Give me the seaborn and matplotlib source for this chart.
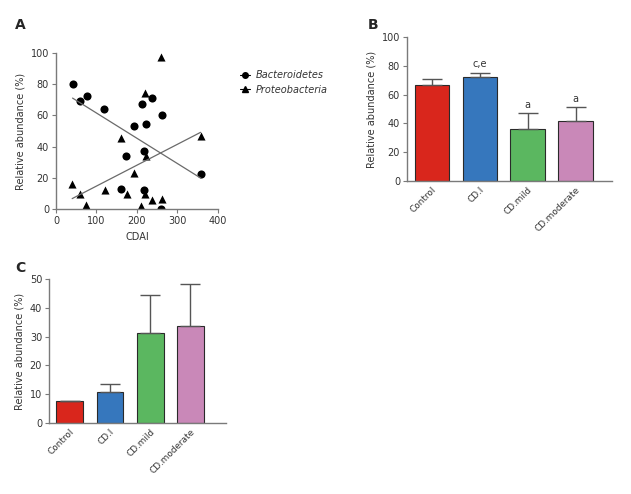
import numpy as np
import pandas as pd
import matplotlib
matplotlib.use("Agg")
import matplotlib.pyplot as plt
from matplotlib.lines import Line2D
import seaborn as sns

sns.set_style("ticks")
plt.rcParams["font.family"] = ["DejaVu Sans"]

# =========================
# DATA
# =========================
# panel A: CDAI vs relative abundance
cdai_bac = [41, 59, 76, 118, 192, 172, 160, 212, 238, 223, 262, 218, 218, 260, 358]
bacteroidetes = [80.4, 69.3, 72.7, 63.8, 53.3, 33.9, 12.8, 67.2, 71.4, 54.2, 60.3, 37.5, 11.9, 0.2, 22.4]
cdai_pro = [40, 59, 75, 120, 161, 175, 192, 219, 222, 219, 211, 237, 259, 262, 357]
proteobacteria = [16.0, 9.8, 2.8, 12.4, 45.6, 9.8, 22.8, 74.4, 34.1, 9.8, 1.7, 5.8, 97.7, 6.4, 46.7]

# panels B and C: group means with upper error
groups = ["Control", "CD.I", "CD.mild", "CD.moderate"]
colors = ["#d9261c", "#3677bd", "#5bb760", "#c988b8"]

b_mean = [66.7, 72.1, 36.2, 41.4]
b_err = [4.2, 2.7, 10.8, 9.8]
b_marks = ["", "c,e", "a", "a"]
b_mark_y = [0, 81.3, 52.7, 56.7]

c_mean = [7.6, 10.7, 31.2, 33.6]
c_err = [0.0, 2.7, 13.3, 14.5]

text_col = "#333333"
spine_col = "#7a7a7a"
lab_fs = 7
tick_fs = 7


def style_axes(ax):
    sns.despine(ax=ax)
    for s in ["left", "bottom"]:
        ax.spines[s].set_color(spine_col)
        ax.spines[s].set_linewidth(1.0)
    ax.tick_params(colors=spine_col, labelcolor=text_col, labelsize=tick_fs,
                   length=3, width=0.8, pad=2)


def bar_panel(ax, means, errs, ymax, ystep, width, xmax):
    df = pd.DataFrame({"group": groups, "value": means})
    sns.barplot(data=df, x="group", y="value", hue="group", palette=colors,
                saturation=1, width=width, edgecolor="#2a2a2a", linewidth=0.8,
                legend=False, ax=ax)
    ax.errorbar(range(len(groups)), means,
                yerr=[np.zeros(len(errs)), errs], fmt="none",
                ecolor="#555555", elinewidth=1.0, capsize=7, capthick=1.0)
    ax.set_ylim(0, ymax)
    ax.set_yticks(np.arange(0, ymax + 1, ystep))
    ax.set_xlim(-0.52, xmax)
    ax.set_xlabel("")
    ax.set_ylabel("Relative abundance (%)", fontsize=lab_fs, color=text_col)
    style_axes(ax)
    ax.tick_params(axis="x", length=0, pad=3, labelsize=6.4)
    ax.set_xticks(range(len(groups)))
    ax.set_xticklabels(groups, rotation=45, ha="right", rotation_mode="anchor")


fig = plt.figure(figsize=(6.31, 4.94), dpi=100)

# =========================
# A: scatter + regression
# =========================
axA = fig.add_axes([0.0887, 0.5769, 0.2567, 0.3158])
sns.regplot(x=cdai_bac, y=bacteroidetes, ci=None, marker="o", ax=axA,
            scatter_kws=dict(s=34, color="black", linewidths=0, alpha=1),
            line_kws=dict(color="#6a6a6a", lw=0.9))
sns.regplot(x=cdai_pro, y=proteobacteria, ci=None, marker="^", ax=axA,
            scatter_kws=dict(s=34, color="black", linewidths=0, alpha=1),
            line_kws=dict(color="#6a6a6a", lw=0.9))
axA.set_xlim(0, 400)
axA.set_ylim(0, 100)
axA.set_xticks([0, 100, 200, 300, 400])
axA.set_yticks([0, 20, 40, 60, 80, 100])
axA.set_xlabel("CDAI", fontsize=lab_fs, color=text_col)
axA.set_ylabel("Relative abundance (%)", fontsize=lab_fs, color=text_col)
style_axes(axA)
for sp in axA.spines.values():
    sp.set_clip_on(False)

handles = [
    Line2D([], [], color="black", marker="o", lw=0.8, markersize=4),
    Line2D([], [], color="black", marker="^", lw=0.8, markersize=4),
]
leg = fig.legend(handles, ["Bacteroidetes", "Proteobacteria"],
                 loc="upper left", bbox_to_anchor=(0.366, 0.875),
                 frameon=False, fontsize=7, handlelength=1.1,
                 handletextpad=0.5, labelspacing=0.45)
for t in leg.get_texts():
    t.set_style("italic")
    t.set_color(text_col)

# =========================
# B: Bacteroidetes by group
# =========================
axB = fig.add_axes([0.645, 0.6336, 0.3249, 0.2915])
bar_panel(axB, b_mean, b_err, 100, 20, 0.72, 3.76)
for i, (m, yy) in enumerate(zip(b_marks, b_mark_y)):
    if m:
        axB.text(i, yy, m, ha="center", va="center", fontsize=7, color=text_col)

# =========================
# C: Proteobacteria by group
# =========================
axC = fig.add_axes([0.0777, 0.1437, 0.2805, 0.2915])
bar_panel(axC, c_mean, c_err, 50, 10, 0.67, 3.89)

# panel letters
fig.text(0.032, 0.949, "A", fontsize=10, fontweight="bold", ha="center", va="center")
fig.text(0.591, 0.949, "B", fontsize=10, fontweight="bold", ha="center", va="center")
fig.text(0.032, 0.457, "C", fontsize=10, fontweight="bold", ha="center", va="center")

fig.savefig("out.png", dpi=100)
